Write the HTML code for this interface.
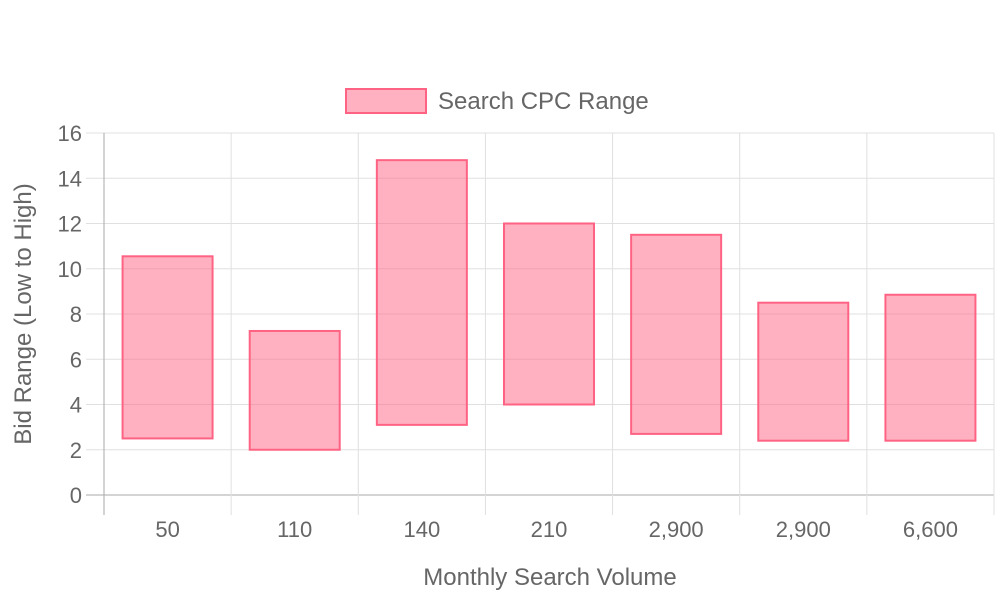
<!DOCTYPE html>
<html><head><meta charset="utf-8"><style>
html,body{margin:0;padding:0;background:#fff;}
svg{display:block;font-family:"Liberation Sans",sans-serif;}
</style></head><body>
<svg id="chart" width="1000" height="600">
<g id="grid"></g>
<g id="bars"></g>
<g id="labels"></g>
<g>
<rect x="346" y="89" width="80" height="24" fill="rgba(255,99,132,0.5)" stroke="rgb(255,99,132)" stroke-width="2"/>
<text x="438" y="109" font-size="24" fill="#666">Search CPC Range</text>
</g>
<text x="550" y="585" font-size="24" fill="#666" text-anchor="middle">Monthly Search Volume</text>
<text transform="translate(31,314) rotate(-90)" font-size="24" fill="#666" text-anchor="middle">Bid Range (Low to High)</text>
</svg>
<script>
const categories = ["50","110","140","210","2,900","2,900","6,600"];
const lows = [2.5, 2, 3.1, 4, 2.7, 2.4, 2.4];
const highs = [10.55, 7.25, 14.8, 12, 11.5, 8.5, 8.85];
const yTicks = [0,2,4,6,8,10,12,14,16];

const NS="http://www.w3.org/2000/svg";
const plotLeft=104,plotRight=994,plotTop=133,plotBottom=495,yMax=16;
const yScale=v=>plotBottom-(v/yMax)*(plotBottom-plotTop);
const bandW=(plotRight-plotLeft)/categories.length;
const xScale=i=>plotLeft+bandW*i;
function mk(tag,attrs,parent){const e=document.createElementNS(NS,tag);for(const k in attrs)e.setAttribute(k,attrs[k]);parent.appendChild(e);return e;}
const grid=document.getElementById('grid'),bars=document.getElementById('bars'),labels=document.getElementById('labels');
yTicks.forEach(t=>{
  const y=yScale(t);
  const l=mk('line',{x1:86,x2:plotRight,y1:y,y2:y,stroke:t===0?'#aaa':'#e0e0e0','stroke-width':1},grid);
  
  
  const tx=mk('text',{x:82,y:y+8,'font-size':22,fill:'#666','text-anchor':'end'},labels);
  tx.textContent=t;
  
  
});
for(let i=0;i<=categories.length;i++){
  const x=xScale(i);
  const l=mk('line',{x1:x,x2:x,y1:plotTop,y2:515,stroke:i===0?'#aaa':'#e0e0e0','stroke-width':1},grid);
  
  
}
categories.forEach((c,i)=>{
  const cx=xScale(i)+bandW/2,w=90;
  const y1=yScale(highs[i]),y2=yScale(lows[i]);
  const r=mk('rect',{x:cx-w/2,y:y1,width:w,height:y2-y1,fill:'rgba(255,99,132,0.5)',stroke:'rgb(255,99,132)','stroke-width':2},bars);
  
  
  const tx=mk('text',{x:cx,y:537,'font-size':22,fill:'#666','text-anchor':'middle'},labels);
  tx.textContent=c;
  
  
});
</script>
</body></html>
